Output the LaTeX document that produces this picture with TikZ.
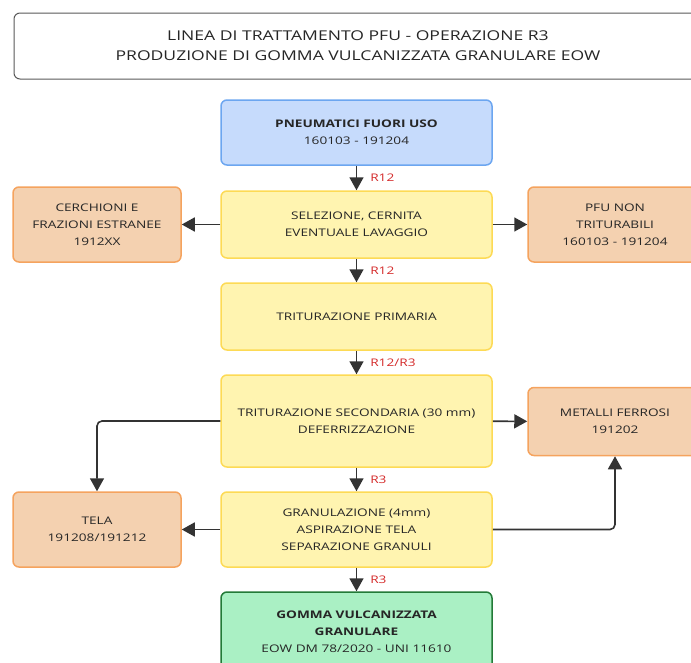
\documentclass[tikz,border=0pt]{standalone}
\usepackage{fontspec}
\setmainfont{Open Sans}[FakeStretch=1.3]
\usetikzlibrary{arrows.meta}
\definecolor{bluefill}{HTML}{C6DBFC}
\definecolor{blueline}{HTML}{6CA6F0}
\definecolor{yelfill}{HTML}{FFF4B0}
\definecolor{yelline}{HTML}{FDDA55}
\definecolor{orfill}{HTML}{F4D1B0}
\definecolor{orline}{HTML}{F5A35E}
\definecolor{grfill}{HTML}{AAF0C4}
\definecolor{grline}{HTML}{237A38}
\definecolor{arrowgray}{HTML}{333333}
\definecolor{txtgray}{HTML}{262626}
\definecolor{codered}{HTML}{D42B2B}
\tikzset{
  box/.style={rounded corners=6pt, line width=1.5pt, align=center, inner sep=0pt,
    text=txtgray, font=\fontsize{10.5}{17}\selectfont},
  mainbox/.style={box, minimum width=271pt},
  yelbox/.style={mainbox, fill=yelfill, draw=yelline},
  sidebox/.style={box, minimum width=168pt, fill=orfill, draw=orline},
  flow/.style={draw=arrowgray, line width=1.6pt, rounded corners=5pt,
    -{Triangle[length=13pt,width=14pt]}},
  code/.style={text=codered, font=\fontsize{10.5}{12}\selectfont, anchor=west, inner sep=0pt}
}
\begin{document}
\begin{tikzpicture}[x=1pt,y=-1pt]
\useasboundingbox (0,0) rectangle (691,662);
\clip (0,0) rectangle (691,662);

% title
\node[box, draw=black!65, line width=1pt, fill=white, minimum width=688pt, minimum height=66pt,
  font=\fontsize{13.5}{20}\selectfont] (title) at (358,46)
  {LINEA DI TRATTAMENTO PFU - OPERAZIONE R3\\PRODUZIONE DI GOMMA VULCANIZZATA GRANULARE EOW};

% main line
\node[mainbox, fill=bluefill, draw=blueline, minimum height=65pt] (pfu) at (356.5,132.5)
  {\textbf{PNEUMATICI FUORI USO}\\160103 - 191204};
\node[yelbox, minimum height=67pt] (sel) at (356.5,224.5)
  {SELEZIONE, CERNITA\\EVENTUALE LAVAGGIO};
\node[yelbox, minimum height=67pt] (prim) at (356.5,316.5)
  {TRITURAZIONE PRIMARIA};
\node[yelbox, minimum height=92pt] (sec) at (356.5,421)
  {TRITURAZIONE SECONDARIA (30 mm)\\DEFERRIZZAZIONE};
\node[yelbox, minimum height=75pt] (gran) at (356.5,529.5)
  {GRANULAZIONE (4mm)\\ASPIRAZIONE TELA\\SEPARAZIONE GRANULI};
\node[mainbox, fill=grfill, draw=grline, minimum height=80pt] (eow) at (356.5,632)
  {\textbf{GOMMA VULCANIZZATA}\\\textbf{GRANULARE}\\EOW DM 78/2020 - UNI 11610};

% side outputs
\node[sidebox, minimum height=75pt] (cerch) at (97,224.5)
  {CERCHIONI E\\FRAZIONI ESTRANEE\\1912XX};
\node[sidebox, minimum width=174pt, minimum height=75pt] (nontrit) at (615,224.5)
  {PFU NON\\TRITURABILI\\160103 - 191204};
\node[sidebox, minimum width=174pt, minimum height=68pt] (metal) at (615,421.5)
  {METALLI FERROSI\\191202};
\node[sidebox, minimum height=75pt] (tela) at (97,529.5)
  {TELA\\191208/191212};

% flow connectors
\draw[flow] (pfu) -- node[code, xshift=13pt] {R12} (sel);
\draw[flow] (sel) -- node[code, xshift=13pt] {R12} (prim);
\draw[flow] (prim) -- node[code, xshift=13pt] {R12/R3} (sec);
\draw[flow] (sec) -- node[code, xshift=13pt] {R3} (gran);
\draw[flow] (gran) -- node[code, xshift=13pt] {R3} (eow);

\draw[flow] (sel) -- (cerch);
\draw[flow] (sel) -- (nontrit);
\draw[flow] (sec) -- (metal);
\draw[flow] (sec.west) -| (tela.north);
\draw[flow] (gran) -- (tela);
\draw[flow] (gran.east) -| (metal.south);
\end{tikzpicture}
\end{document}
